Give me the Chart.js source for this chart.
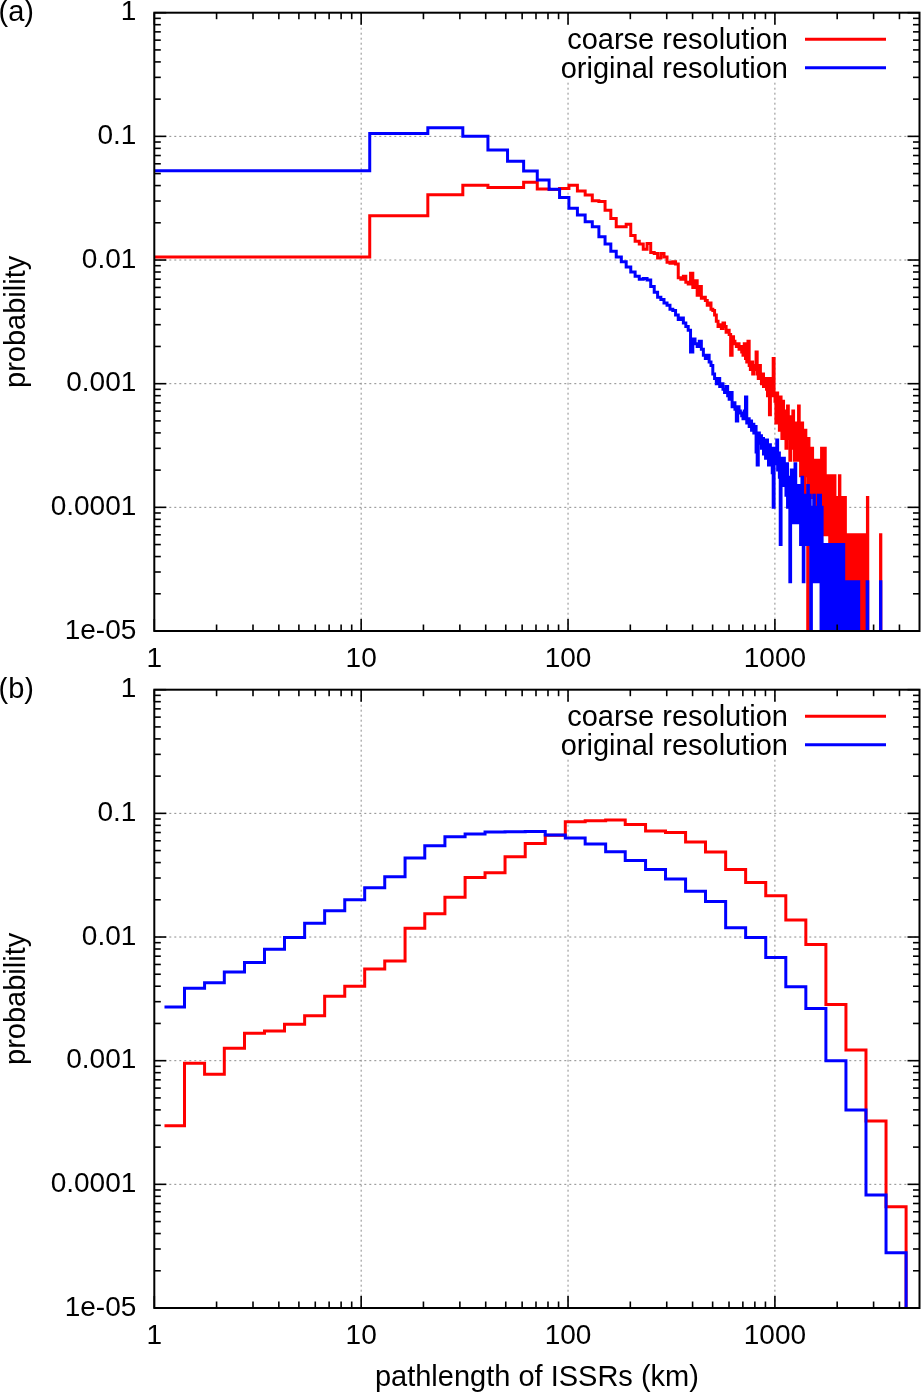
<!DOCTYPE html>
<html><head><meta charset="utf-8">
<script src="https://cdn.jsdelivr.net/npm/chart.js@4/dist/chart.umd.min.js"></script>
<style>
html,body{margin:0;padding:0;background:#fff;}
body{width:921px;height:1395px;position:relative;overflow:hidden;}
canvas{position:absolute;left:0;}
#ca{top:0;} #cb{top:677px;}
</style></head><body>
<canvas id="ca" width="921" height="677"></canvas>
<canvas id="cb" width="921" height="718"></canvas>
<script>
// ---------- DATA ----------
const seriesLabels = ['coarse resolution', 'original resolution'];
const panelNames = ['(a)', '(b)'];
const xAxisTitle = 'pathlength of ISSRs (km)';
const yAxisTitle = 'probability';
const xTickValues = [1, 10, 100, 1000];
const xTickLabels = ['1', '10', '100', '1000'];
const yTickValues = [1e-5, 1e-4, 1e-3, 1e-2, 1e-1, 1];
const yTickLabels = ['1e-05', '0.0001', '0.001', '0.01', '0.1', '1'];
const minorMultipliers = [2, 3, 4, 5, 6, 7, 8, 9];

// panel (a): 10 km bins starting at 1 km
const aBinStart = 1;
const aBinWidth = 10;
const aRed = [
0.0106,0.0228,0.0337,0.0403,0.0385,0.0385,0.0425,0.0375,0.0372,0.0378,
0.0403,0.0361,0.0335,0.0302,0.0298,0.0253,0.0217,0.0186,0.0186,0.0195,
0.0158,0.0142,0.0135,0.0122,0.0136,0.0115,0.0113,0.0104,0.0113,0.0106,
0.0096,0.0094,0.0097,0.0093,0.0072,0.0070,0.0074,0.0066,0.0064,0.0078,
0.0060,0.0068,0.0052,0.0061,0.0049,0.0050,0.0047,0.0043,0.0045,0.0040,
0.0039,0.0036,0.0032,0.0029,0.0030,0.0028,0.0031,0.0029,0.0026,0.0027,
0.0025,0.0017,0.0024,0.0022,0.0021,0.0020,0.0021,0.0019,0.0020,0.0018,
0.0017,0.0021,0.0016,0.0015,0.0022,0.0014,0.0013,0.0015,0.0012,0.0014,
0.0013,0.0018,0.0012,0.0011,0.0014,0.0011,0.0010,0.0012,0.00095,0.0011,
0.0010,0.0009,0.0008,0.0011,0.00056,0.0009,0.0008,0.0011,0.0016,0.0008,
7.2e-4,4.8e-4,8.4e-4,5.4e-4,6.6e-4,4.2e-4,7.8e-4,6e-4,3.6e-4,7.2e-4,
5.4e-4,3.6e-4,6e-4,3e-4,4.8e-4,6.6e-4,3.6e-4,4.2e-4,2.4e-4,5.4e-4,
4.2e-4,3e-4,6e-4,3.6e-4,2.4e-4,4.8e-4,3e-4,4.2e-4,2.4e-4,3.6e-4,
6.6e-4,3e-4,4.2e-4,1.8e-4,3.6e-4,4.8e-4,2.4e-4,3.6e-4,1.2e-4,3e-4,
4.2e-4,1.8e-4,3e-4,2.4e-4,0,3.6e-4,1.8e-4,3e-4,1.2e-4,2.4e-4,
1.8e-4,3e-4,1.2e-4,2.4e-4,1.8e-4,6e-5,2.4e-4,1.2e-4,1.8e-4,6e-5,
1.8e-4,1.2e-4,2.4e-4,6e-5,1.2e-4,1.8e-4,6e-5,1.2e-4,3e-4,1.2e-4,
6e-5,1.8e-4,1.2e-4,6e-5,3e-4,1.2e-4,6e-5,1.8e-4,6e-5,1.2e-4,
6e-5,1.2e-4,1.8e-4,6e-5,0,1.2e-4,6e-5,1.8e-4,6e-5,1.2e-4,
6e-5,0,1.2e-4,6e-5,1.8e-4,6e-5,6e-5,0,1.2e-4,6e-5,
6e-5,1.2e-4,0,6e-5,6e-5,1.8e-4,0,6e-5,1.2e-4,6e-5,
0,1.2e-4,6e-5,0,6e-5,6e-5,0,6e-5,1.2e-4,0,
6e-5,0,6e-5,6e-5,0,6e-5,0,6e-5,0,6e-5,
6e-5,0,0,6e-5,0,6e-5,6e-5,0,6e-5,0,
0,6e-5,0,6e-5,0,0,6e-5,0,6e-5,0,
6e-5,0,6e-5,0,0,6e-5,0,0,6e-5,0,
0,6e-5,0,0,6e-5,0,0,0,6e-5,0,
0,0,0,6e-5,0,0,0,0,0,0,
1.2e-4,0,0,0,0,0,0,0,0,0,
0,0,0,0,0,0,0,0,0,0,
0,0,0,0,0,0,0,0,0,0,
0,0,0,0,0,0,0,0,0,0,
0,0,0,0,6e-5,0
];
const aBlue = [
0.0527,0.1057,0.1174,0.100,0.0775,0.0628,0.0524,0.0443,0.0373,0.0321,
0.0262,0.0231,0.0204,0.0186,0.0154,0.0135,0.0118,0.0106,0.0097,0.0088,
0.0080,0.0074,0.0070,0.0071,0.0069,0.0061,0.0055,0.0050,0.0048,0.0045,
0.0043,0.0040,0.0039,0.0036,0.0033,0.0034,0.0031,0.0029,0.0027,0.0018,
0.0023,0.0021,0.0020,0.0022,0.0019,0.0017,0.0016,0.0017,0.0015,0.0014,
0.0012,0.0011,0.0010,0.0011,0.00095,0.0010,0.0009,0.00085,0.00095,0.0008,
0.00075,0.00085,0.00065,0.0007,0.00062,0.0005,0.00065,0.0006,0.00058,0.00055,
0.00052,0.0006,0.00078,0.00048,0.00052,0.00045,0.0005,0.00042,0.00047,0.0004,
0.00045,0.00028,0.00022,0.0004,0.00033,0.00038,0.0003,0.00036,0.00027,0.00033,
0.00025,0.00035,0.00028,0.00022,0.00032,0.00026,0.0003,0.00019,0.0001,0.00028,
3e-4,2.25e-4,3.5e-4,2e-4,2.75e-4,1.75e-4,5e-5,2.5e-4,2.25e-4,1.5e-4,
2.5e-4,1.5e-4,2e-4,1.25e-4,2.25e-4,1e-4,1.75e-4,1.25e-4,2.5e-5,1.5e-4,
2e-4,1e-4,1.75e-4,7.5e-5,1.5e-4,2.25e-4,1e-4,1.25e-4,7.5e-5,1.5e-4,
1.25e-4,7.5e-5,1.5e-4,5e-5,1e-4,1.75e-4,7.5e-5,2.5e-5,1e-4,5e-5,
1.25e-4,5e-5,1e-4,7.5e-5,1.5e-4,5e-5,7.5e-5,1.25e-4,5e-5,0,
1e-4,2.5e-5,7.5e-5,5e-5,1.25e-4,2.5e-5,5e-5,1e-4,2.5e-5,7.5e-5,
5e-5,2.5e-5,1.25e-4,2.5e-5,7.5e-5,1.25e-4,5e-5,0,1e-4,5e-5,
2.5e-5,5e-5,0,2.5e-5,5e-5,2.5e-5,0,5e-5,2.5e-5,2.5e-5,
5e-5,2.5e-5,0,2.5e-5,5e-5,0,2.5e-5,2.5e-5,5e-5,0,
2.5e-5,5e-5,2.5e-5,0,2.5e-5,5e-5,2.5e-5,2.5e-5,0,5e-5,
2.5e-5,0,2.5e-5,5e-5,2.5e-5,0,2.5e-5,2.5e-5,5e-5,2.5e-5,
0,2.5e-5,2.5e-5,0,5e-5,2.5e-5,0,2.5e-5,2.5e-5,0,
2.5e-5,2.5e-5,0,2.5e-5,0,2.5e-5,2.5e-5,0,2.5e-5,2.5e-5,
0,2.5e-5,2.5e-5,0,2.5e-5,0,2.5e-5,2.5e-5,0,2.5e-5,
0,0,2.5e-5,0,0,0,0,2.5e-5,0,0,
0,0,0,2.5e-5,0,0,0,0,0,0,
0,0,0,0,0,0,0,0,0,0,
0,0,0,0,0,0,0,0,0,2.5e-5,
2.5e-5,0,0,0,0,0,0,0,0,0,
0,0,0,0,0,0,0,0,0,0,
0,0,0,0,0,0,0,0,0,0,
0,0,0,0,0,0,0,0,0,0,
0,0,0,0,2.5e-5,0
];

// panel (b): logarithmic bins, edges
const bEdges = [1.12,1.40,1.75,2.18,2.73,3.41,4.26,5.33,6.66,8.33,
10.4,13.0,16.3,20.3,25.4,31.8,39.7,49.6,62.1,77.6,
97.0,121,152,189,237,296,370,462,578,722,
903,1129,1411,1764,2205,2756,3445,4307];
const bRed = [0.000298,0.000953,0.000776,0.00126,0.00167,0.00174,0.00197,0.00231,0.00332,0.00400,
0.00552,0.00641,0.0118,0.0154,0.0210,0.0303,0.0331,0.0446,0.0571,0.0664,
0.0857,0.0873,0.0884,0.0811,0.0720,0.0699,0.0586,0.0486,0.0352,0.0276,
0.0216,0.0137,0.00869,0.00284,0.00122,0.000325,6.6e-5];
const bBlue = [0.00272,0.00386,0.00426,0.00522,0.00622,0.00798,0.0099,0.0129,0.0163,0.0200,
0.0250,0.0307,0.0435,0.0547,0.0647,0.0681,0.0707,0.0711,0.0714,0.0668,
0.0632,0.0565,0.0490,0.0416,0.0352,0.0294,0.0235,0.0194,0.0119,0.0099,
0.00683,0.00397,0.00264,0.00100,0.000399,8.2e-5,2.8e-5];

// ---------- STYLE ----------
const FONT = '"Liberation Sans", Arial, Helvetica, sans-serif';
const RED = '#ff0000', BLUE = '#0000ff';
const ZERO_DRAW = 1e-8; // empty bins drawn below the axis
Chart.defaults.font.family = FONT;
Chart.defaults.color = '#000';

const aEdges = aRed.concat([0]).map((_, i) => aBinStart + aBinWidth * i);

function toPoints(edges, vals) {
  const pts = vals.map((v, i) => ({x: edges[i], y: v > 0 ? v : ZERO_DRAW}));
  pts.push({x: edges[vals.length], y: ZERO_DRAW});
  return pts;
}

function framePlugin(panelName) {
  return {
    id: 'frame',
    beforeDatasetsDraw(chart) {
      const {ctx, chartArea: a, scales: {x, y}} = chart;
      ctx.save();
      ctx.strokeStyle = '#8c8c8c';
      ctx.lineWidth = 1;
      ctx.setLineDash([2, 3]);
      xTickValues.forEach(v => {
        const p = x.getPixelForValue(v);
        if (p > a.left + 2 && p < a.right - 2) {
          ctx.beginPath(); ctx.moveTo(p, a.top); ctx.lineTo(p, a.bottom); ctx.stroke();
        }
      });
      yTickValues.forEach(v => {
        const p = y.getPixelForValue(v);
        if (p > a.top + 2 && p < a.bottom - 2) {
          ctx.beginPath(); ctx.moveTo(a.left, p); ctx.lineTo(a.right, p); ctx.stroke();
        }
      });
      ctx.restore();
    },
    afterDatasetsDraw(chart) {
      const {ctx, chartArea: a, scales: {x, y}} = chart;
      ctx.save();
      // opaque key
      ctx.fillStyle = '#fff';
      ctx.fillRect(552, a.top + 12, 362, 57);
      ctx.font = '29px ' + FONT;
      ctx.textAlign = 'right';
      ctx.textBaseline = 'alphabetic';
      chart.data.datasets.forEach((ds, k) => {
        const by = a.top + 36.6 + k * 28.4;
        ctx.fillStyle = '#000';
        ctx.fillText(ds.label, 788, by);
        ctx.strokeStyle = ds.borderColor;
        ctx.lineWidth = 3;
        ctx.beginPath(); ctx.moveTo(805, by - 10); ctx.lineTo(886, by - 10); ctx.stroke();
      });
      // ticks
      ctx.strokeStyle = '#000';
      ctx.lineWidth = 1.6;
      const seg = (x1, y1, x2, y2) => { ctx.beginPath(); ctx.moveTo(x1, y1); ctx.lineTo(x2, y2); ctx.stroke(); };
      const MAJ = 12, MIN = 6.5;
      xTickValues.forEach(dec => {
        const p = x.getPixelForValue(dec);
        seg(p, a.bottom, p, a.bottom - MAJ); seg(p, a.top, p, a.top + MAJ);
        minorMultipliers.forEach(m => {
          const v = dec * m;
          if (v < x.max) {
            const q = x.getPixelForValue(v);
            seg(q, a.bottom, q, a.bottom - MIN); seg(q, a.top, q, a.top + MIN);
          }
        });
      });
      yTickValues.forEach(dec => {
        const p = y.getPixelForValue(dec);
        seg(a.left, p, a.left + MAJ, p); seg(a.right, p, a.right - MAJ, p);
        minorMultipliers.forEach(m => {
          const v = dec * m;
          if (v < y.max) {
            const q = y.getPixelForValue(v);
            seg(a.left, q, a.left + MIN, q); seg(a.right, q, a.right - MIN, q);
          }
        });
      });
      // border
      ctx.lineWidth = 2;
      ctx.strokeRect(a.left, a.top, a.right - a.left, a.bottom - a.top);
      ctx.restore();
    },
    afterDraw(chart) {
      const ctx = chart.ctx;
      ctx.save();
      ctx.font = '29px ' + FONT;
      ctx.fillStyle = '#000';
      ctx.textAlign = 'left';
      ctx.textBaseline = 'alphabetic';
      ctx.fillText(panelName, -1.5, 21);
      ctx.restore();
    }
  };
}

function makeChart(id, edges, red, blue, panelName, xTitle, xAxisHeight, xPad) {
  return new Chart(document.getElementById(id), {
    type: 'line',
    data: {
      datasets: [
        {label: seriesLabels[0], data: toPoints(edges, red), borderColor: RED, borderWidth: 3,
         stepped: true, pointRadius: 0, fill: false, order: 2, clip: 0,
         borderJoinStyle: 'miter', borderCapStyle: 'butt'},
        {label: seriesLabels[1], data: toPoints(edges, blue), borderColor: BLUE, borderWidth: 3,
         stepped: true, pointRadius: 0, fill: false, order: 1, clip: 0,
         borderJoinStyle: 'miter', borderCapStyle: 'butt'}
      ]
    },
    options: {
      responsive: false,
      animation: false,
      events: [],
      layout: {padding: {top: 12.7, right: 1.5, bottom: 0, left: 0}},
      plugins: {legend: {display: false}, tooltip: {enabled: false}},
      scales: {
        x: {
          type: 'logarithmic', min: 1, max: 5000,
          grid: {display: false, drawTicks: false}, border: {display: false},
          afterBuildTicks: s => { s.ticks = xTickValues.map(v => ({value: v})); },
          ticks: {autoSkip: false, maxRotation: 0, minRotation: 0, padding: xPad,
                  font: {size: 28}, color: '#000', callback: (v, i) => xTickLabels[i]},
          title: {display: !!xTitle, text: xTitle || '', font: {size: 29}, color: '#000',
                  padding: {top: 0, bottom: 0}},
          afterFit: s => { s.height = xAxisHeight; s.paddingLeft = 0; s.paddingRight = 0; }
        },
        y: {
          type: 'logarithmic', min: 1e-5, max: 1,
          grid: {display: false, drawTicks: false}, border: {display: false},
          afterBuildTicks: s => { s.ticks = yTickValues.map(v => ({value: v})); },
          ticks: {autoSkip: false, padding: 18, font: {size: 28}, color: '#000',
                  callback: (v, i) => yTickLabels[i]},
          title: {display: true, text: yAxisTitle, font: {size: 29}, color: '#000',
                  padding: {top: 0, bottom: 0}},
          afterFit: s => { s.width = 154.3; s.paddingTop = 0; s.paddingBottom = 0; }
        }
      }
    },
    plugins: [framePlugin(panelName)]
  });
}

makeChart('ca', aEdges, aRed, aBlue, panelNames[0], null, 46, 11);
makeChart('cb', bEdges, bRed, bBlue, panelNames[1], xAxisTitle, 87, 11);
</script></body></html>
